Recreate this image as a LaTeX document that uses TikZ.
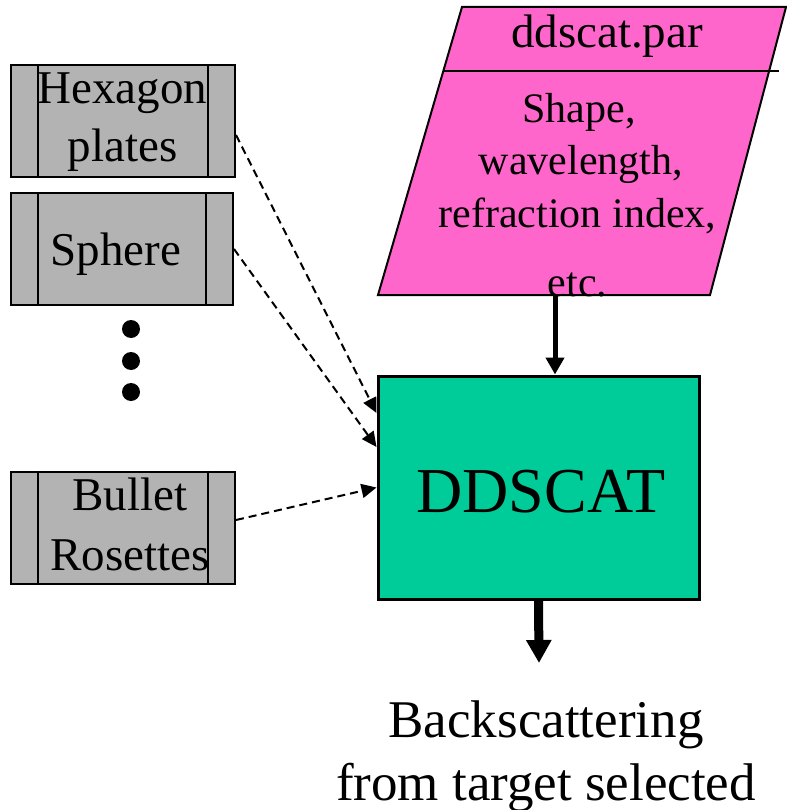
\documentclass[tikz,border=0pt]{standalone}
\usepackage{fontspec}
\setmainfont{Liberation Serif}
\usetikzlibrary{arrows.meta,calc}

\definecolor{boxgrey}{RGB}{179,179,179}
\definecolor{parpink}{RGB}{255,102,204}
\definecolor{coregreen}{RGB}{0,204,153}

\tikzset{
  shapebox/.style={draw=black, line width=2pt, fill=boxgrey, minimum height=112pt, inner sep=0pt},
  shapetext/.style={anchor=base, inner sep=0pt, align=center, font=\fontsize{47}{58}\selectfont},
  partext/.style={anchor=base, inner sep=0pt, font=\fontsize{42}{52}\selectfont},
  feed/.style={line width=2pt, dash pattern=on 8pt off 5pt, -{Triangle[length=15pt,width=14pt]}},
  flow/.style={line width=5pt, -{Triangle[length=17pt,width=18pt]}},
  bigflow/.style={line width=9pt, -{Triangle[length=23pt,width=24pt]}},
  dot/.style={circle, fill=black, inner sep=0pt, minimum size=18pt}
}

\begin{document}
\begin{tikzpicture}[x=1pt, y=-1pt]
\useasboundingbox (0,0) rectangle (786,810);

% target shape boxes with their side bars
\node[shapebox, minimum width=224pt] (hex) at (123,121) {};
\node[shapebox, minimum width=222pt] (sph) at (122,249) {};
\node[shapebox, minimum width=224pt] (bul) at (123,527.5) {};
\foreach \b/\l/\r in {hex/38/208, sph/38/206, bul/38/208} {
  \draw[line width=2pt] (\l,0 |- \b.north) -- (\l,0 |- \b.south);
  \draw[line width=2pt] (\r,0 |- \b.north) -- (\r,0 |- \b.south);
}
% multi-line labels are placed by the baseline of their last line
\node[shapetext] (hextxt) at (122.5,162) {Hexagon\\plates};
\node[shapetext] (sphtxt) at (116,265) {Sphere};
\node[shapetext, font=\fontsize{47}{60}\selectfont] (bultxt) at (130,570) {Bullet\\Rosettes};

% ellipsis between the shapes
\node[dot] (d1) at (131,329) {};
\node[dot] (d2) at (131,361) {};
\node[dot] (d3) at (131,392) {};

% parameter file
\coordinate (ptl) at (462,7);
\coordinate (ptr) at (786,7);
\coordinate (pbr) at (710,295);
\coordinate (pbl) at (378,295);
\fill[parpink] (ptl) -- (ptr) -- (pbr) -- (pbl) -- cycle;
\draw[line width=2pt] (ptl) -- (ptr) -- (pbr) -- (pbl) -- cycle;
\coordinate (divl) at (443,71);
\coordinate (divr) at (779,71);
\draw[line width=2pt] (divl) -- (divr);
\node[anchor=base, inner sep=0pt, font=\fontsize{47}{56}\selectfont] (partitle) at (607,48) {ddscat.par};
\node[partext] (p1) at (579,123) {Shape,};
\node[partext] (p2) at (581,175) {wavelength,};
\node[partext] (p3) at (577.5,227) {refraction index,};
\node[partext] (p4) at (577.5,296) {etc.};
\coordinate (parout) at (555,295);

% solver
\node[draw=black, line width=3pt, fill=coregreen, minimum width=321pt, minimum height=223pt, inner sep=0pt] (dd) at (538.5,487.5) {};
\node[anchor=base, inner sep=0pt, font=\fontsize{64}{76}\selectfont] (ddtxt) at (541,512) {DDSCAT};

% connectors
\draw[flow] (parout) -- (parout |- dd.north);
\draw[feed] ([yshift=-14pt]hex.east) -- ([yshift=74.5pt]dd.west);
\draw[feed] (sph.east) -- ([yshift=40.5pt]dd.west);
\draw[feed] ([yshift=7.5pt]bul.east) -- (dd.west);
\coordinate (outtip) at (539,663);
\draw[bigflow] (dd.south) -- (outtip);

% result
\node[anchor=base, inner sep=0pt, font=\fontsize{53}{63}\selectfont] (res1) at (546,737) {Backscattering};
\node[anchor=base, inner sep=0pt, font=\fontsize{53}{63}\selectfont] (res2) at (546,800) {from target selected};
\end{tikzpicture}
\end{document}
